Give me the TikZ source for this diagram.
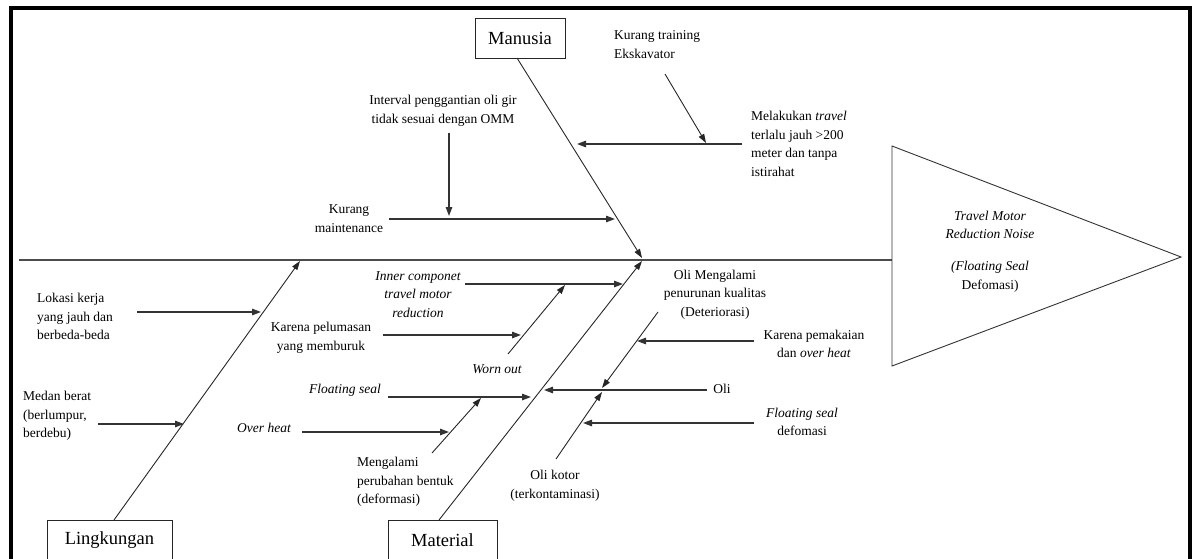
\documentclass[tikz,border=0pt]{standalone}
\usepackage{fontspec}
\setmainfont{Liberation Serif}
\usetikzlibrary{arrows.meta}
\begin{document}
\begin{tikzpicture}[x=1pt,y=-1pt,
  txt/.style={font=\fontsize{13.5}{18.7}\selectfont, inner sep=0pt},
  catbox/.style={draw=black!85, line width=0.8pt, fill=white, inner sep=0pt,
    minimum height=40pt, font=\fontsize{18.5}{22}\selectfont},
  bone/.style={draw=black!85, line width=0.9pt, -{Triangle[length=9pt,width=6pt]}},
  arr/.style={draw=black!80, line width=1.3pt, -{Triangle[length=9pt,width=6.5pt]}},
  spine/.style={draw=black!70, line width=1.3pt},
  frame/.style={draw=black, line width=4pt}]
\useasboundingbox (0,0) rectangle (1192,559);
% frame
\draw[frame] (10.5,562) -- (10.5,8) -- (1189.5,8) -- (1189.5,562);
% spine and head
\coordinate (spL) at (19,260);
\coordinate (triA) at (892,146);
\coordinate (triB) at (1181,257);
\coordinate (triC) at (892,366);
\coordinate (spR) at (892,260);
\draw[spine] (spL) -- (spR);
\draw[draw=black!80, line width=0.9pt] (triA) -- (triB) -- (triC) -- cycle;
\node[txt, align=center] (head) at (990,251.5)
  {\textit{Travel Motor}\\\textit{Reduction Noise}\\[13pt]\textit{(Floating Seal}\\Defomasi)};
% category boxes
\node[catbox, minimum width=90pt] (man) at (520,38) {Manusia};
\node[catbox, minimum width=125pt] (lin) at (109.5,540) {Lingkungan};
\node[catbox, minimum width=109pt] (mat) at (442.5,540) {Material};
% main bones
\coordinate (manS) at (517,58);
\coordinate (manT) at (642,258);
\coordinate (linS) at (114,520);
\coordinate (linT) at (300,261);
\coordinate (matS) at (439,520);
\coordinate (matT) at (642,261);
\draw[bone] (manS) -- (manT);
\draw[bone] (linS) -- (linT);
\draw[bone] (matS) -- (matT);
% ---------- Manusia causes
\node[txt, align=center] (interval) at (443,111) {Interval penggantian oli gir\\tidak sesuai dengan OMM};
\node[txt, align=center] (kmaint) at (349,218.5) {Kurang\\maintenance};
\node[txt, align=left, anchor=west] (ktrain) at (614,44.5) {Kurang training\\Ekskavator};
\node[txt, align=left, anchor=west] (travel) at (751,144) {Melakukan \textit{travel}\\terlalu jauh >200\\meter dan tanpa\\istirahat};
\coordinate (intS) at (449,133);
\coordinate (intT) at (449,216);
\coordinate (kmS) at (389,219);
\coordinate (kmT) at (615,219);
\coordinate (trS) at (742,144);
\coordinate (trT) at (577,144);
\coordinate (ktS) at (665,74);
\coordinate (ktT) at (706,143);
\draw[arr] (intS) -- (intT);
\draw[arr] (kmS) -- (kmT);
\draw[arr] (trS) -- (trT);
\draw[bone] (ktS) -- (ktT);
% ---------- Lingkungan causes
\node[txt, align=left, anchor=west] (lokasi) at (37,316.5) {Lokasi kerja\\yang jauh dan\\berbeda-beda};
\node[txt, align=left, anchor=west] (medan) at (23,416) {Medan berat\\(berlumpur,\\berdebu)};
\coordinate (lkS) at (137,312);
\coordinate (lkT) at (261,312);
\coordinate (mdS) at (98,424);
\coordinate (mdT) at (184,424);
\draw[arr] (lkS) -- (lkT);
\draw[arr] (mdS) -- (mdT);
% ---------- Material causes
\node[txt, align=center, font=\fontsize{13.5}{18.7}\selectfont\itshape] (inner) at (418,294.5) {Inner componet\\travel motor\\reduction};
\node[txt, align=center] (pelum) at (321,337.5) {Karena pelumasan\\yang memburuk};
\node[txt, font=\fontsize{13.5}{18.7}\selectfont\itshape] (worn) at (497,369) {Worn out};
\node[txt, font=\fontsize{13.5}{18.7}\selectfont\itshape] (fseal) at (345,390) {Floating seal};
\node[txt, font=\fontsize{13.5}{18.7}\selectfont\itshape] (oheat) at (264,428) {Over heat};
\node[txt, align=left, anchor=west] (meng) at (357,482) {Mengalami\\perubahan bentuk\\(deformasi)};
\coordinate (inS) at (465,284);
\coordinate (inT) at (623,284);
\coordinate (woS) at (508,354);
\coordinate (woT) at (565,285);
\coordinate (plS) at (383,335);
\coordinate (plT) at (521,335);
\coordinate (fsS) at (388,397);
\coordinate (fsT) at (531,397);
\coordinate (mgS) at (432,453);
\coordinate (mgT) at (481,398);
\coordinate (ohS) at (302,432);
\coordinate (ohT) at (449,432);
\draw[arr] (inS) -- (inT);
\draw[bone] (woS) -- (woT);
\draw[arr] (plS) -- (plT);
\draw[arr] (fsS) -- (fsT);
\draw[bone] (mgS) -- (mgT);
\draw[arr] (ohS) -- (ohT);
% right side of Material
\node[txt, align=center] (olimeng) at (715,294.5) {Oli Mengalami\\penurunan kualitas\\(Deteriorasi)};
\node[txt, align=center] (pakai) at (814,344) {Karena pemakaian\\dan \textit{over heat}};
\node[txt] (oli) at (722,389) {Oli};
\node[txt, align=center] (fsdef) at (802,422) {\textit{Floating seal}\\defomasi};
\node[txt, align=center] (olikotor) at (555,486) {Oli kotor\\(terkontaminasi)};
\coordinate (omS) at (658,312);
\coordinate (omT) at (602,388);
\coordinate (pkS) at (754,341);
\coordinate (pkT) at (637,341);
\coordinate (olS) at (707,390);
\coordinate (olT) at (544,390);
\coordinate (okS) at (556,459);
\coordinate (okT) at (602,392);
\coordinate (fdS) at (754,423);
\coordinate (fdT) at (583,423);
\draw[bone] (omS) -- (omT);
\draw[arr] (pkS) -- (pkT);
\draw[arr] (olS) -- (olT);
\draw[bone] (okS) -- (okT);
\draw[arr] (fdS) -- (fdT);
\end{tikzpicture}
\end{document}
